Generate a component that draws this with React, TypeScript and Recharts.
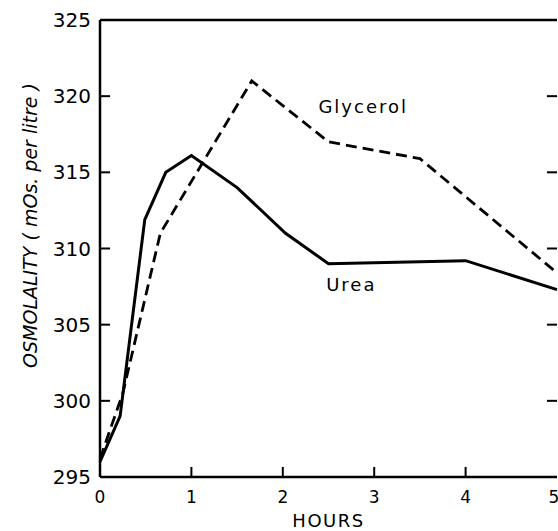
import { LineChart, Line, XAxis, YAxis, ReferenceDot, ReferenceLine } from 'recharts'

const ureaHours = [0, 0.22, 0.49, 0.72, 1.0, 1.5, 2.03, 2.5, 4.0, 5.0]
const ureaValues = [296.0, 299.0, 311.9, 315.0, 316.1, 314.0, 311.0, 309.0, 309.2, 307.3]
const glycerolHours = [0, 0.25, 0.66, 1.66, 2.5, 3.5, 5.0]
const glycerolValues = [296.2, 300.5, 311.0, 321.0, 317.0, 315.9, 308.4]
const xTicks = [0, 1, 2, 3, 4, 5]
const yTicks = [295, 300, 305, 310, 315, 320, 325]
const X_MIN = 0
const X_MAX = 5
const Y_MIN = 295
const Y_MAX = 325

const FONT = '"DejaVu Sans", sans-serif'
const frame = { stroke: '#000', strokeWidth: 2.5 }
// inward tick length in data units (~10px)
const X_TICK_LEN = 0.11
const Y_TICK_LEN = 0.66

const urea = ureaHours.map((h, i) => ({ h, v: ureaValues[i] }))
const glycerol = glycerolHours.map((h, i) => ({ h, v: glycerolValues[i] }))
const innerY = yTicks.filter((v) => v > Y_MIN && v < Y_MAX)
const innerX = xTicks.filter((v) => v > X_MIN && v < X_MAX)

function LeftLabel(props: any) {
  const { x, y, payload } = props
  return (
    <text x={x - 9} y={y + 7} textAnchor="end" fontSize={20} fontFamily={FONT} fill="#000">
      {payload.value}
    </text>
  )
}

function BottomLabel(props: any) {
  const { x, y, payload } = props
  return (
    <text x={x} y={y + 26} textAnchor="middle" fontSize={17} fontFamily={FONT} fill="#000">
      {payload.value}
    </text>
  )
}

function tag(text: string) {
  return (p: any) => {
    const vb = p.viewBox || {}
    const x = vb.cx ?? vb.x
    const y = vb.cy ?? vb.y
    return (
      <text x={x} y={y + 7} textAnchor="middle" fontSize={18} letterSpacing={2} fontFamily={FONT} fill="#000">
        {text}
      </text>
    )
  }
}

export default function App() {
  return (
    <div style={{ position: 'absolute', left: 0, top: 0, width: 558, height: 531, background: '#fff' }}>
      <LineChart width={558} height={531} margin={{ top: 19, right: 1, bottom: 0, left: 0 }}>
        <XAxis
          xAxisId="b"
          dataKey="h"
          type="number"
          domain={[X_MIN, X_MAX]}
          ticks={xTicks}
          height={54}
          tickSize={0}
          tickMargin={0}
          tickLine={false}
          tick={<BottomLabel />}
          axisLine={frame}
          label={{
            value: 'HOURS',
            position: 'insideBottom',
            offset: 4,
            fontSize: 18,
            letterSpacing: 1.5,
            fontFamily: FONT,
            fill: '#000',
          }}
        />
        <XAxis
          xAxisId="t"
          orientation="top"
          dataKey="h"
          type="number"
          domain={[X_MIN, X_MAX]}
          height={1}
          tick={false}
          tickLine={false}
          axisLine={frame}
        />
        <YAxis
          yAxisId="l"
          type="number"
          domain={[Y_MIN, Y_MAX]}
          ticks={yTicks}
          width={100}
          tickSize={0}
          tickMargin={0}
          tickLine={false}
          tick={<LeftLabel />}
          axisLine={frame}
          label={{
            content: (p: any) => {
              const vb = p.viewBox
              const cx = 30
              const cy = vb.y + vb.height / 2 - 23
              return (
                <text
                  x={cx}
                  y={cy}
                  transform={`rotate(-90, ${cx}, ${cy})`}
                  textAnchor="middle"
                  dominantBaseline="central"
                  fontSize={19}
                  fontStyle="italic"
                  fontFamily={FONT}
                  fill="#000"
                >
                  OSMOLALITY ( mOs. per litre )
                </text>
              )
            },
          }}
        />
        <YAxis
          yAxisId="r"
          orientation="right"
          type="number"
          domain={[Y_MIN, Y_MAX]}
          width={0}
          tick={false}
          tickLine={false}
          axisLine={frame}
        />
        {innerY.map((v) => (
          <ReferenceLine
            key={'l' + v}
            xAxisId="b"
            yAxisId="l"
            segment={[{ x: X_MIN, y: v }, { x: X_MIN + X_TICK_LEN, y: v }]}
            stroke="#000"
            strokeWidth={2}
          />
        ))}
        {innerY.map((v) => (
          <ReferenceLine
            key={'r' + v}
            xAxisId="b"
            yAxisId="l"
            segment={[{ x: X_MAX - X_TICK_LEN, y: v }, { x: X_MAX, y: v }]}
            stroke="#000"
            strokeWidth={2}
          />
        ))}
        {innerX.map((h) => (
          <ReferenceLine
            key={'b' + h}
            xAxisId="b"
            yAxisId="l"
            segment={[{ x: h, y: Y_MIN }, { x: h, y: Y_MIN + Y_TICK_LEN }]}
            stroke="#000"
            strokeWidth={2}
          />
        ))}
        <Line
          xAxisId="b"
          yAxisId="l"
          data={glycerol}
          dataKey="v"
          type="linear"
          stroke="#000"
          strokeWidth={2.8}
          strokeDasharray="11 6"
          dot={false}
          isAnimationActive={false}
        />
        <Line
          xAxisId="b"
          yAxisId="l"
          data={urea}
          dataKey="v"
          type="linear"
          stroke="#000"
          strokeWidth={3}
          dot={false}
          isAnimationActive={false}
        />
        <ReferenceDot xAxisId="b" yAxisId="l" x={2.88} y={319.35} r={0} fill="none" stroke="none" label={{ content: tag('Glycerol') }} />
        <ReferenceDot xAxisId="b" yAxisId="l" x={2.75} y={307.67} r={0} fill="none" stroke="none" label={{ content: tag('Urea') }} />
      </LineChart>
    </div>
  )
}
